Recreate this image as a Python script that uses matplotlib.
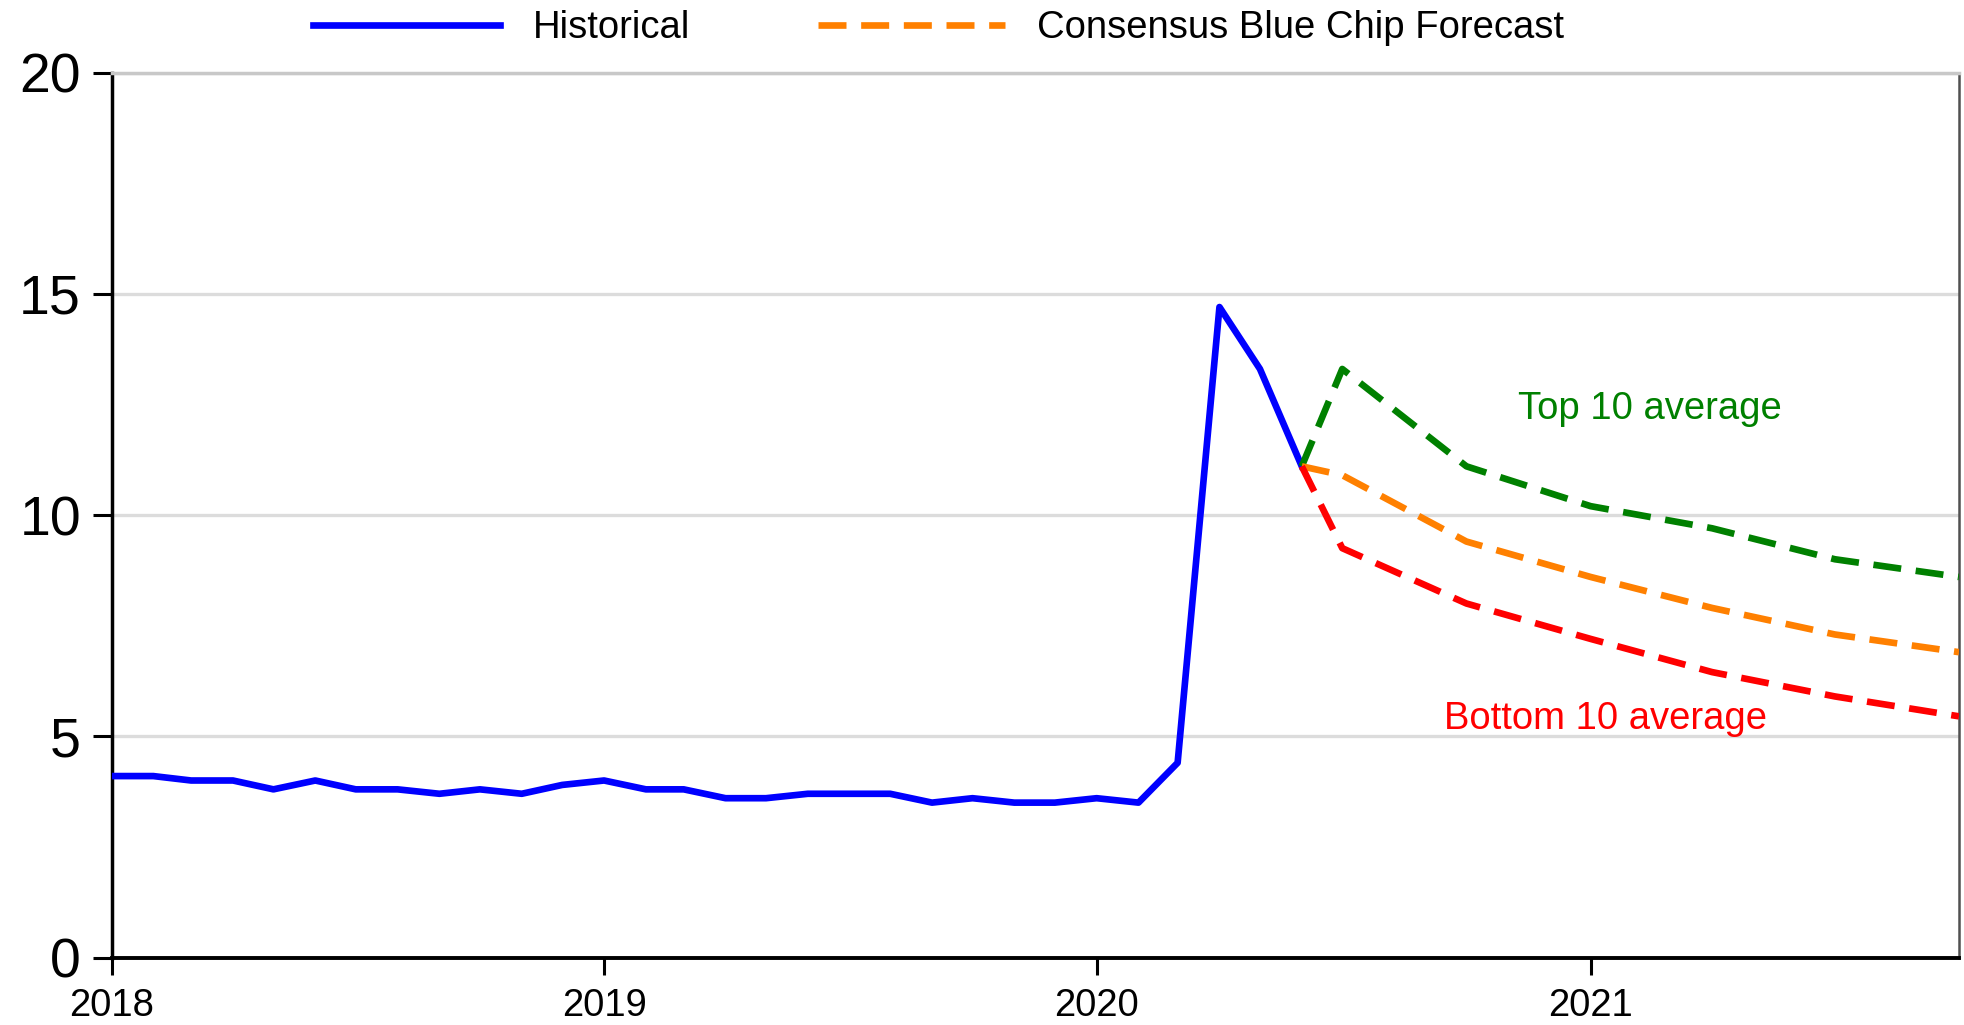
import matplotlib
matplotlib.use("Agg")
import matplotlib.pyplot as plt
from matplotlib.lines import Line2D
import datetime as dt

plt.rcParams['font.family'] = ['Liberation Sans', 'DejaVu Sans']

# ---- data ----
hist_months = ["2018-01", "2018-02", "2018-03", "2018-04", "2018-05", "2018-06",
               "2018-07", "2018-08", "2018-09", "2018-10", "2018-11", "2018-12",
               "2019-01", "2019-02", "2019-03", "2019-04", "2019-05", "2019-06",
               "2019-07", "2019-08", "2019-09", "2019-10", "2019-11", "2019-12",
               "2020-01", "2020-02", "2020-03", "2020-04", "2020-05", "2020-06"]
hist_values = [4.1, 4.1, 4.0, 4.0, 3.8, 4.0, 3.8, 3.8, 3.7, 3.8, 3.7, 3.9,
               4.0, 3.8, 3.8, 3.6, 3.6, 3.7, 3.7, 3.7, 3.5, 3.6, 3.5, 3.5,
               3.6, 3.5, 4.4, 14.7, 13.3, 11.1]

fc_months = ["2020-06", "2020-07", "2020-10", "2021-01", "2021-04", "2021-07", "2021-10"]
consensus = [11.1, 10.9, 9.4, 8.6, 7.9, 7.3, 6.9]
top10 = [11.1, 13.3, 11.1, 10.2, 9.7, 9.0, 8.6]
bottom10 = [11.1, 9.25, 8.0, 7.2, 6.45, 5.9, 5.45]

year_ticks = ["2018", "2019", "2020", "2021"]
y_ticks = [0, 5, 10, 15, 20]


def to_date(s):
    y, m = s.split("-")
    return dt.date(int(y), int(m), 1)


hx = [to_date(s) for s in hist_months]
fx = [to_date(s) for s in fc_months]

fig = plt.figure(figsize=(19.64, 10.25), dpi=100)
ax = fig.add_axes([111.5 / 1964, 1 - 957.5 / 1025, (1959 - 111.5) / 1964, (957.5 - 72.5) / 1025])

LW = 4.8
DASH = (4.2, 2.2)
BLUE = "#0000ff"
ORANGE = "#ff8000"
GREEN = "#008000"
RED = "#ff0000"

ax.plot(hx, hist_values, color=BLUE, lw=LW, zorder=3, solid_joinstyle='round')
ax.plot(fx, top10, color=GREEN, lw=LW, dashes=DASH, zorder=4)
ax.plot(fx, consensus, color=ORANGE, lw=LW, dashes=DASH, zorder=4)
ax.plot(fx, bottom10, color=RED, lw=LW, dashes=DASH, zorder=5)

ax.set_ylim(0, 20)
ax.set_xlim(dt.date(2018, 1, 1), dt.date(2021, 10, 1))
ax.set_yticks(y_ticks)
ax.set_yticklabels([str(v) for v in y_ticks])
ax.set_xticks([dt.date(int(y), 1, 1) for y in year_ticks])
ax.set_xticklabels(year_ticks)

ax.yaxis.grid(True, color="#dcdcdc", lw=2.4, zorder=0)
ax.set_axisbelow(True)

ax.tick_params(axis='y', labelsize=40, length=14, width=2.2, pad=8, color='black')
ax.tick_params(axis='x', labelsize=27.5, length=12, width=2.2, pad=10, color='black')

ax.spines['left'].set_linewidth(2.5)
ax.spines['left'].set_color('black')
ax.spines['bottom'].set_linewidth(2.8)
ax.spines['bottom'].set_color('black')
ax.spines['top'].set_linewidth(2.5)
ax.spines['top'].set_color('#c8c8c8')
ax.spines['right'].set_linewidth(1.8)
ax.spines['right'].set_color('#505050')

ax.text(dt.date(2021, 2, 14), 12.4, "Top 10 average", color=GREEN, fontsize=27.5,
        ha='center', va='center')
ax.text(dt.date(2021, 1, 12), 5.38, "Bottom 10 average", color=RED, fontsize=27.5,
        ha='center', va='center')

handles = [Line2D([], [], color=BLUE, lw=LW),
           Line2D([], [], color=ORANGE, lw=LW, dashes=(4.2, 2.2))]
fig.legend(handles, ["Historical", "Consensus Blue Chip Forecast"],
           loc='center left', bbox_to_anchor=(313 / 1964, 1 - 28 / 1025),
           ncol=2, frameon=False, fontsize=27.5, borderpad=0, borderaxespad=0,
           handlelength=4.9, handletextpad=0.85, columnspacing=3.35)

fig.savefig("out.png", dpi=100)
